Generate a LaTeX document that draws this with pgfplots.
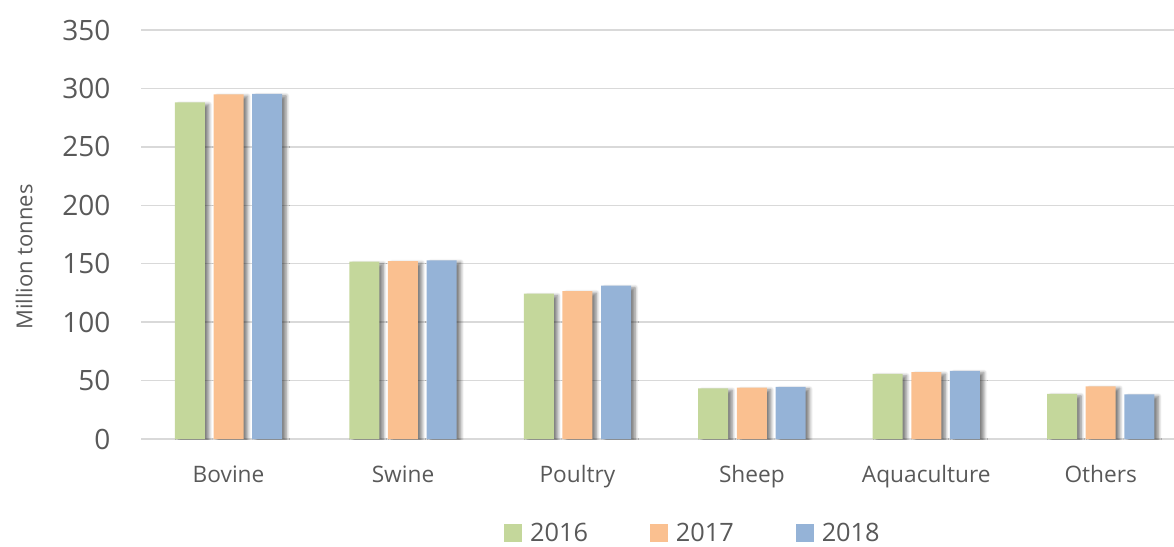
\documentclass[border=0pt]{standalone}
\usepackage{fontspec}
\setmainfont{Open Sans}
\usepackage{pgfplots}
\pgfplotsset{compat=1.18}
\usetikzlibrary{shadows.blur}
\definecolor{cgreen}{HTML}{C4D79B}
\definecolor{corange}{HTML}{FAC090}
\definecolor{cblue}{HTML}{95B3D7}
\definecolor{ctext}{HTML}{595959}
\definecolor{cgrid}{HTML}{D9D9D9}
\tikzset{barshadow/.style={blur shadow={shadow xshift=3pt, shadow yshift=-1.5pt, shadow blur steps=6, shadow blur radius=2.5pt, shadow opacity=50}}}
\begin{document}
\begin{tikzpicture}
\useasboundingbox (-106pt,-80.25pt) rectangle (774.5pt,329.25pt);
\begin{axis}[
  at={(0pt,0pt)}, anchor=south west,
  scale only axis,
  width=774.5pt, height=306.75pt,
  ybar, bar width=22.5pt,
  xmin=-0.5, xmax=5.42,
  ymin=0, ymax=350,
  ytick={0,50,...,350},
  xtick={0,1,2,3,4,5},
  xticklabels={Bovine,Swine,Poultry,Sheep,Aquaculture,Others},
  major tick length=0pt,
  axis line style={draw=none},
  ymajorgrids,
  major grid style={cgrid, line width=1.1pt},
  /pgf/number format/assume math mode=true,
  yticklabel style={font=\fontsize{21}{25}\selectfont, text=ctext, anchor=east, inner sep=0pt, xshift=-23pt},
  xticklabel style={font=\fontsize{17}{20}\selectfont, text=ctext, anchor=base, inner sep=0pt, yshift=-32.25pt},
  ylabel={Million tonnes},
  ylabel style={at={(axis description cs:-0.1136,0.445)}, anchor=center, font=\fontsize{16.5}{19}\selectfont, text=ctext},
  legend columns=3,
  legend style={at={(axis description cs:0.3512,-0.250)}, anchor=base west, draw=none, fill=none,
    inner sep=0pt, font=\fontsize{19}{22}\selectfont, text=ctext,
    nodes={inner sep=0pt, anchor=base west},
    /tikz/every odd column/.append style={column sep=6.5pt},
    /tikz/every even column/.append style={column sep=46.5pt}},
]
\addlegendimage{legend image code/.code={\fill[cgreen] (0pt,0pt) rectangle (12.5pt,12.5pt);}}
\addlegendimage{legend image code/.code={\fill[corange] (0pt,0pt) rectangle (12.5pt,12.5pt);}}
\addlegendimage{legend image code/.code={\fill[cblue] (0pt,0pt) rectangle (12.5pt,12.5pt);}}
\addplot[fill=cgreen, draw=none, bar shift=-29pt, forget plot, barshadow] coordinates {(0,288) (1,151.7) (2,124.3) (3,43.4) (4,55.8) (5,38.7)};
\addplot[fill=corange, draw=none, bar shift=0pt, forget plot, barshadow] coordinates {(0,295) (1,152.3) (2,126.6) (3,43.9) (4,57.2) (5,45.1)};
\addplot[fill=cblue, draw=none, bar shift=29pt, forget plot, barshadow] coordinates {(0,295.3) (1,152.9) (2,131.2) (3,44.5) (4,58.4) (5,38.2)};
\legend{2016,2017,2018}
\end{axis}
\end{tikzpicture}
\end{document}
